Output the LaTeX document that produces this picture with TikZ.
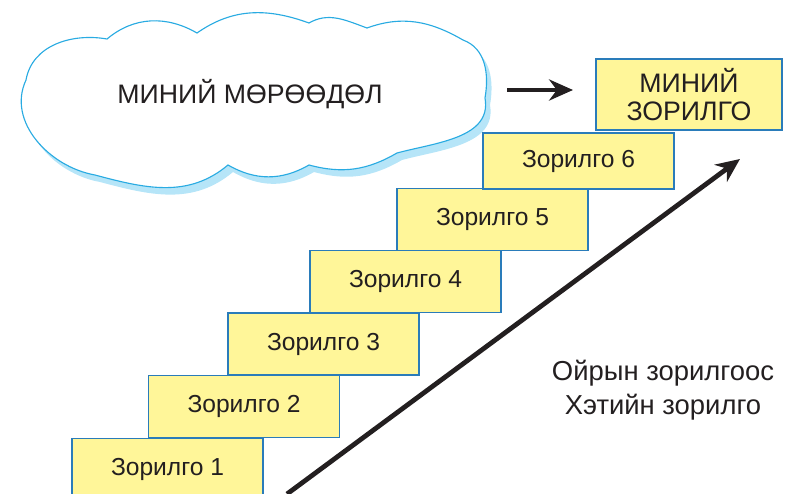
\documentclass[tikz,border=0pt]{standalone}
\usepackage{fontspec}
\setmainfont{Liberation Sans}
\usetikzlibrary{arrows.meta}
\definecolor{cloudline}{RGB}{41,171,226}
\definecolor{cloudshade}{RGB}{182,229,248}
\definecolor{boxfill}{RGB}{255,246,153}
\definecolor{boxline}{RGB}{42,124,186}
\definecolor{ink}{RGB}{35,31,32}
\tikzset{
  zbox/.style={draw=boxline, line width=0.9pt, fill=boxfill, minimum width=4.775cm,
    minimum height=1.55cm, inner sep=0pt, text=ink, font=\fontsize{17.5}{20}\selectfont},
  bigarrow/.style={draw=ink, line width=3pt, -{Stealth[length=17pt,width=15pt,inset=5.5pt]}},
}
\newcommand\dreamcloud{(26,80) to[out=80,in=170] (107,39) to[out=40,in=150] (197,33)
  to[out=35,in=160] (309,23) to[out=30,in=160] (367,28) to[out=20,in=150] (463,40)
  to[out=-20,in=80] (485,98) to[out=-80,in=15] (397,153) to[out=-150,in=-15] (309,165)
  to[out=-150,in=-30] (228,165) to[out=-140,in=-15] (95,175) to[out=170,in=-115] cycle}

\begin{document}
\begin{tikzpicture}[x=0.025cm, y=-0.025cm]
        \useasboundingbox (0,0) rectangle (785,494);
        \clip (0,0) rectangle (785,494);
        % the cloud with its shadow
        \fill[cloudshade, shift={(5,7)}] \dreamcloud;
        \filldraw[fill=white, draw=cloudline, line width=0.8pt] \dreamcloud;
        \node (dream) [anchor=base, text=ink, font=\fontsize{19}{22}\selectfont] at (250,103) {МИНИЙ МӨРӨӨДӨЛ};
        % the steps
        \node (g1) [zbox] at (167.5,469.5) {Зорилго 1};
        \node (g2) [zbox] at (244,406.5) {Зорилго 2};
        \node (g3) [zbox] at (323.5,344) {Зорилго 3};
        \node (g4) [zbox] at (405.5,281.5) {Зорилго 4};
        \node (g5) [zbox] at (492.5,219.5) {Зорилго 5};
        \node (g6) [zbox, minimum height=1.4cm] at (578.5,161) {Зорилго 6};
        \node (goal) [zbox, minimum width=4.65cm, minimum height=1.775cm, align=center,
                font=\fontsize{19}{20.5}\selectfont] at (689,94.5) {МИНИЙ\\ЗОРИЛГО};
        \node (path) [align=center, text=ink, font=\fontsize{19.5}{24}\selectfont] at (663,390) {Ойрын зорилгоос\\Хэтийн зорилго};
        % arrows
        \coordinate (dreamout) at (507,90);
        \coordinate (goalin) at (573,90);
        \coordinate (near) at (287,494);
        \coordinate (far) at (740,159);
        \draw[bigarrow] (dreamout) -- (goalin);
        \draw[bigarrow, line width=3.4pt] (near) -- (far);
\end{tikzpicture}
\end{document}
